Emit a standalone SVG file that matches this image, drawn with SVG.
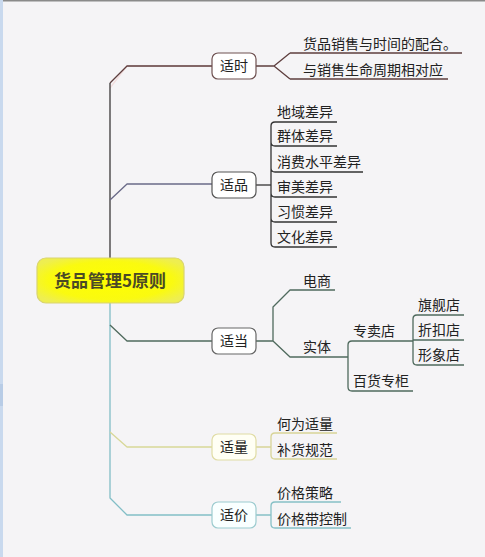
<svg xmlns="http://www.w3.org/2000/svg" width="485" height="557" viewBox="0 0 485 557">
<defs>
<radialGradient id="rootFill" cx="50%" cy="50%" r="60%">
<stop offset="0" stop-color="#ffff00"/>
<stop offset="0.7" stop-color="#fafa10"/>
<stop offset="1" stop-color="#eeee50"/>
</radialGradient>
<style>
.t{font-family:"Noto Sans CJK SC","Liberation Sans",sans-serif;font-size:14px;fill:#222}
.bt{font-family:"Noto Sans CJK SC","Liberation Sans",sans-serif;font-size:14px;fill:#222;text-anchor:middle}
.rt{font-family:"Noto Sans CJK SC","Liberation Sans",sans-serif;font-size:17px;font-weight:bold;fill:#4a4a26;text-anchor:middle}
.ln{fill:none;stroke-width:1.3;stroke-linejoin:round}
.box{stroke-width:1.2}
</style>
</defs>
<rect x="0" y="0" width="485" height="557" fill="#f5f4f6"/>
<rect x="0" y="0" width="485" height="1.5" fill="#8a8a8a"/>
<rect x="0" y="0" width="3" height="557" fill="#c9d9ee"/>
<rect x="0" y="384" width="3" height="22" fill="#b8cce6"/>

<g id="connectors">
<!-- trunk & branches -->
<path class="ln" d="M110,88 L127,66 H212" stroke="#f2cfcf" stroke-width="3" opacity="0.6"/>
<path class="ln" d="M110,258 V83" stroke="#3a3838"/>
<path class="ln" d="M110,83 L127,66 H212" stroke="#5e3e3e"/>
<path class="ln" d="M110,200 L127,184 H212" stroke="#6a6a88" stroke-width="1.6"/>
<path class="ln" d="M110,303 V498 L127,515 H212" stroke="#82bec6"/>
<path class="ln" d="M110,325 L127,341 H212" stroke="#4f6a5d"/>
<path class="ln" d="M110,432 L127,447 H212" stroke="#d8d898"/>

<!-- 适时 children -->
<path class="ln" d="M256,66 H274 M290,53 L274,66 L290,79 M290,53 H462 M290,79 H448" stroke="#5e3e3e"/>

<!-- 适品 children -->
<path class="ln" d="M256,185 H271" stroke="#333"/>
<path class="ln" d="M337,122 H275 Q271,122 271,126 V243 Q271,247 275,247 H337 M271,142 Q271,146 275,146 H337 M271,168 Q271,172 275,172 H363 M271,193 Q271,197 275,197 H337 M271,218 Q271,222 275,222 H337" stroke="#333"/>

<!-- 适当 children -->
<path class="ln" d="M256,341 H273 M335,290 H290 L273,307 V341 L290,357 H348" stroke="#4f6a5d"/>
<path class="ln" d="M413,341 H352 Q348,341 348,345 V387 Q348,391 352,391 H413" stroke="#4f6a5d"/>
<path class="ln" d="M464,315 H417 Q413,315 413,319 V361 Q413,365 417,365 H464 M413,340 H464" stroke="#4f6a5d"/>

<!-- 适量 children -->
<path class="ln" d="M256,447 H271 M337,433 H275 Q271,433 271,437 V455 Q271,459 275,459 H337" stroke="#d8d498"/>

<!-- 适价 children -->
<path class="ln" d="M256,515 H271 M341,502 H275 Q271,502 271,506 V524 Q271,528 275,528 H351" stroke="#86c0c6"/>
</g>

<g id="root">
<rect x="37" y="258" width="147" height="45" rx="9" fill="url(#rootFill)" stroke="#d9d46e" stroke-width="1.2"/>
<text class="rt" x="110" y="287">货品管理5原则</text>
</g>

<g id="shishi">
<rect class="box" x="212" y="53" width="44" height="26" rx="6" fill="#fff" stroke="#6e5050"/>
<text class="bt" x="234" y="71">适时</text>
</g>
<g id="shishi-1"><text class="t" x="303" y="49">货品销售与时间的配合。</text></g>
<g id="shishi-2"><text class="t" x="303" y="75">与销售生命周期相对应</text></g>

<g id="shipin">
<rect class="box" x="212" y="172" width="44" height="26" rx="6" fill="#fff" stroke="#555"/>
<text class="bt" x="234" y="190">适品</text>
</g>
<g id="shipin-1"><text class="t" x="277" y="117">地域差异</text></g>
<g id="shipin-2"><text class="t" x="277" y="141">群体差异</text></g>
<g id="shipin-3"><text class="t" x="277" y="167">消费水平差异</text></g>
<g id="shipin-4"><text class="t" x="277" y="192">审美差异</text></g>
<g id="shipin-5"><text class="t" x="277" y="217">习惯差异</text></g>
<g id="shipin-6"><text class="t" x="277" y="242">文化差异</text></g>

<g id="shidang">
<rect class="box" x="212" y="328" width="44" height="26" rx="6" fill="#fff" stroke="#666"/>
<text class="bt" x="234" y="346">适当</text>
</g>
<g id="dianshang"><text class="t" x="303" y="286">电商</text></g>
<g id="shiti"><text class="t" x="303" y="352">实体</text></g>
<g id="zhuanmaidian"><text class="t" x="353" y="336">专卖店</text></g>
<g id="baihuo"><text class="t" x="353" y="386">百货专柜</text></g>
<g id="qijian"><text class="t" x="418" y="310">旗舰店</text></g>
<g id="zhekou"><text class="t" x="418" y="335">折扣店</text></g>
<g id="xingxiang"><text class="t" x="418" y="360">形象店</text></g>

<g id="shiliang">
<rect class="box" x="212" y="434" width="44" height="26" rx="6" fill="#fffff4" stroke="#e0dca4"/>
<text class="bt" x="234" y="452">适量</text>
</g>
<g id="shiliang-1"><text class="t" x="277" y="429">何为适量</text></g>
<g id="shiliang-2"><text class="t" x="277" y="455">补货规范</text></g>

<g id="shijia">
<rect class="box" x="212" y="502" width="44" height="26" rx="6" fill="#f9ffff" stroke="#9ccbcf"/>
<text class="bt" x="234" y="520">适价</text>
</g>
<g id="shijia-1"><text class="t" x="277" y="498">价格策略</text></g>
<g id="shijia-2"><text class="t" x="277" y="524">价格带控制</text></g>
</svg>
